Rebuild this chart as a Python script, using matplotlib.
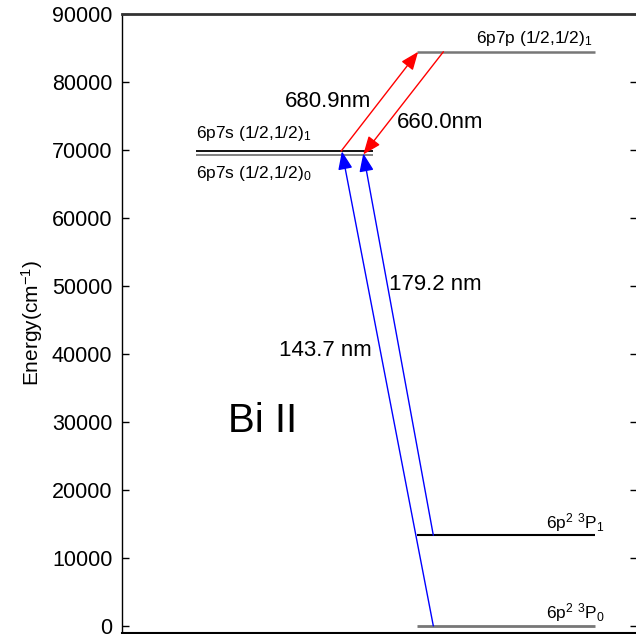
import matplotlib
matplotlib.use("Agg")
import matplotlib.pyplot as plt

plt.rcParams['font.family'] = ['Liberation Sans', 'DejaVu Sans']
plt.rcParams['mathtext.fontset'] = 'custom'
plt.rcParams['mathtext.rm'] = 'Liberation Sans'
plt.rcParams['mathtext.it'] = 'Liberation Sans:italic'

# energy levels (cm^-1)
level_labels = [r'6p$^2$ $^3$P$_0$', r'6p$^2$ $^3$P$_1$',
                r'6p7s (1/2,1/2)$_0$', r'6p7s (1/2,1/2)$_1$',
                r'6p7p (1/2,1/2)$_1$']
level_energy = [0, 13325, 69300, 69760, 84400]

# transitions: label, start energy, end energy
trans_labels = ['143.7 nm', '179.2 nm', '680.9nm', '660.0nm']
trans_start = [0, 13325, 69800, 84400]
trans_end = [69760, 69450, 84400, 69300]

# drawing layout (x in arbitrary units 0..100)
level_x = [(57.3, 91.8), (57.3, 91.8), (14.4, 48.7), (14.4, 48.7), (57.3, 91.8)]
level_col = ['#777777', 'black', '#777777', 'black', '#777777']
level_lw = [2.0, 1.5, 1.3, 1.3, 1.8]
level_txt = [(82.3, 1030), (82.3, 14265), (14.4, 65900), (14.4, 71720), (68.7, 85690)]
trans_x = [(60.45, 42.7), (60.45, 46.85), (42.55, 57.5), (62.4, 46.85)]
trans_col = ['blue', 'blue', 'red', 'red']
trans_txt = [(30.5, 40485), (51.8, 50150), (31.6, 77100), (53.3, 74015)]

fig = plt.figure(figsize=(6.36, 6.34), dpi=100)
ax = fig.add_axes([122 / 636, 1.3 / 634, 515 / 636, 619 / 634])

for lab, e, (x0, x1), c, lw, (tx, ty) in zip(level_labels, level_energy, level_x,
                                             level_col, level_lw, level_txt):
    ax.plot([x0, x1], [e, e], color=c, lw=lw, solid_capstyle='butt')
    ax.text(tx, ty, lab, fontsize=12.5, ha='left', va='baseline')

for lab, e0, e1, (x0, x1), c, (tx, ty) in zip(trans_labels, trans_start, trans_end,
                                              trans_x, trans_col, trans_txt):
    ax.annotate('', xy=(x1, e1), xytext=(x0, e0),
                arrowprops=dict(arrowstyle='-|>,head_length=0.55,head_width=0.22',
                                mutation_scale=20, color=c, lw=1.0,
                                shrinkA=0, shrinkB=0))
    ax.text(tx, ty, lab, fontsize=16, ha='left', va='center')

ax.text(20.5, 30190, 'Bi II', fontsize=29, ha='left', va='center')

ax.set_xlim(0, 100)
ax.set_ylim(-1000, 90000)
ax.set_yticks(range(0, 90001, 10000))
ax.set_xticks([])
ax.tick_params(axis='y', direction='in', length=5, width=1, labelsize=15.5,
               pad=7, right=True)
ax.set_ylabel('Energy(cm$^{-1}$)', fontsize=15, labelpad=5)

ax.spines['top'].set_linewidth(2)
ax.spines['top'].set_color('#333333')
ax.spines['left'].set_linewidth(1)
ax.spines['bottom'].set_linewidth(1.5)

plt.savefig('out.png', dpi=100)
